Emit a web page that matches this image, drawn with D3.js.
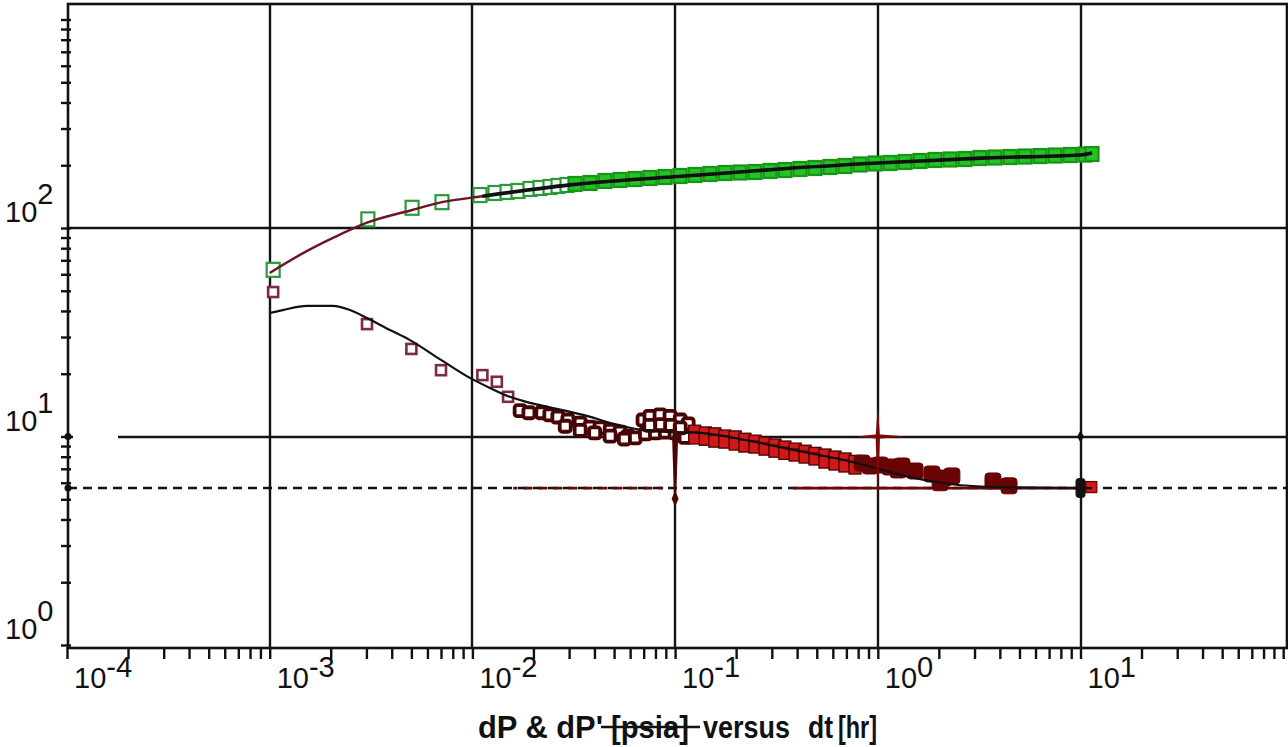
<!DOCTYPE html>
<html><head><meta charset="utf-8">
<script src="https://cdn.jsdelivr.net/npm/d3@7"></script>
<style>html,body{margin:0;padding:0;background:#fff;overflow:hidden}svg{display:block}</style>
</head><body>
<svg id="c" width="1288" height="747"></svg>
<script>
// ---------------- data ----------------
const xExponents = [-4, -3, -2, -1, 0, 1];
const yExponents = [0, 1, 2];
const titleParts = ["dP & dP'", "[psia]", "versus", "dt", "[hr]"];

const pressureTime = [0.00104, 0.00305, 0.00504, 0.00708, 0.0109, 0.01292, 0.01482, 0.01679, 0.01924, 0.02156,
  0.02415, 0.02645, 0.0293, 0.03208, 0.03804, 0.0451, 0.05348, 0.06341, 0.07518, 0.08915,
  0.1057, 0.1254, 0.1487, 0.1763, 0.209, 0.2478, 0.2939, 0.3484, 0.4132, 0.4899,
  0.5809, 0.6888, 0.8168, 0.9687, 1.149, 1.362, 1.615, 1.915, 2.271, 2.693,
  3.193, 3.786, 4.49, 5.324, 6.313, 7.486, 8.876, 10.52, 11.39];
const pressureDP = [63, 110, 125, 133, 143.9, 147.2, 148.9, 150.5, 153.9, 155.6,
  157.3, 159.1, 160.8, 162.6, 164.4, 168.1, 169.9, 171.8, 173.7, 175.6,
  177.6, 179.6, 181.6, 183.6, 184.6, 185.6, 187.7, 189.7, 191.9, 194.0,
  196.2, 198.4, 201.7, 203.9, 205.0, 207.3, 209.6, 211.9, 213.1, 214.2,
  216.6, 217.8, 219.0, 220.2, 221.4, 222.7, 223.9, 225.1, 226.4];

const derivTime = [0.00104, 0.00302, 0.0050, 0.0070, 0.0112, 0.0132, 0.0150,
  0.0172, 0.0190, 0.0220, 0.0241, 0.0264, 0.0296, 0.0340, 0.0380, 0.0426, 0.0478, 0.0535, 0.0586, 0.0634,
  0.0287, 0.0340, 0.0401, 0.0478, 0.0562,
  0.0695, 0.0752, 0.0843, 0.0944, 0.106, 0.116,
  0.0714, 0.0800, 0.0895, 0.1000, 0.112,
  0.0750, 0.0850, 0.0950, 0.106,
  0.125, 0.125, 0.141, 0.141, 0.157, 0.157, 0.176, 0.176, 0.198, 0.198,
  0.221, 0.221, 0.248, 0.248, 0.278, 0.278, 0.311, 0.311, 0.348, 0.348,
  0.391, 0.391, 0.438, 0.438, 0.49, 0.49, 0.549, 0.549, 0.615, 0.615,
  0.689, 0.689, 0.772, 0.772,
  0.836, 0.917, 1.026, 1.149, 1.259, 1.316, 1.527, 1.85, 2.03, 2.12, 2.32, 3.70, 4.44, 11.3];
const derivDP = [49.3, 34.6, 26.3, 20.8, 19.7, 18.3, 15.5,
  13.3, 13.0, 13.0, 12.7, 12.4, 12.0, 11.6, 11.1, 11.0, 10.7, 10.5, 10.05, 9.84,
  11.2, 10.7, 10.4, 10.05, 9.73,
  12.0, 12.5, 12.7, 12.5, 12.0, 11.5,
  10.3, 10.4, 10.5, 10.4, 9.9,
  11.3, 11.4, 11.3, 11.0,
  10.6, 9.84, 10.4, 9.7, 10.3, 9.5, 10.05, 9.4, 9.95, 9.2,
  9.7, 9.0, 9.5, 8.9, 9.3, 8.7, 9.1, 8.5, 8.9, 8.3,
  8.7, 8.15, 8.5, 7.97, 8.3, 7.8, 8.15, 7.54, 7.97, 7.38,
  7.8, 7.22, 7.6, 7.06,
  7.46, 7.22, 7.30, 7.14, 6.91, 7.22, 6.83, 6.61, 6.0, 6.32, 6.47, 6.12, 5.80, 5.72];

const modelPTime = [0.001, 0.00141, 0.0021, 0.00302, 0.00504, 0.00708, 0.0112, 0.0303, 0.0985, 0.187, 0.33, 1.0, 3.46, 10, 11.4];
const modelP     = [60.9, 74.3, 90.6, 106, 122, 133, 142, 161, 176, 184, 192, 205, 217, 224, 229];

const modelDTime = [0.001, 0.00116, 0.00153, 0.00205, 0.00249, 0.00302, 0.00392, 0.00492, 0.0070, 0.00972, 0.0122, 0.0153,
  0.0192, 0.0241, 0.0351, 0.0517, 0.0752, 0.133, 0.234, 0.413, 0.755, 1.29, 2.27, 4.0, 11.4];
const modelD     = [39.1, 40.4, 42.3, 42.3, 40.4, 37.0, 32.4, 29.0, 23.3, 19.1, 17.1, 15.5,
  14.5, 13.8, 12.7, 11.4, 10.6, 10.4, 9.52, 8.5, 7.54, 6.55, 5.92, 5.72, 5.66];

const iarfLevel = 5.66;
const iarfSolidRange = [0.382, 10];
const iarfRedRange = [0.0159, 0.0873];

// ---------------- drawing ----------------
const svg = d3.select("#c");
const FONT = "'Liberation Sans', Arial, sans-serif";
const frame = {left: 68, right: 1287, top: 4, bottom: 648};
const x = d3.scaleLog().domain([1e-4, 1e2]).range([67, 1283.2]);
const y = d3.scaleLog().domain([1, 1000]).range([645, 19.5]);

svg.append("rect").attr("width", 1288).attr("height", 747).attr("fill", "#fff");

// grid
const g = svg.append("g");
const vGrid = xExponents.slice(1).map(e => Math.pow(10, e));
g.selectAll("line.vg").data(vGrid).join("line")
  .attr("x1", d => Math.round(x(d))).attr("x2", d => Math.round(x(d)))
  .attr("y1", frame.top).attr("y2", frame.bottom)
  .attr("stroke", "#141414").attr("stroke-width", 2.4);
const hGrid = yExponents.slice(1).map(e => Math.pow(10, e));
g.selectAll("line.hg").data(hGrid).join("line")
  .attr("x1", frame.left).attr("x2", frame.right)
  .attr("y1", d => Math.round(y(d))).attr("y2", d => Math.round(y(d)))
  .attr("stroke", "#141414").attr("stroke-width", 2.4);
// white break in the 10^1 grid line near the axis, as in the source plot
g.append("rect").attr("x", 73).attr("y", y(10) - 3).attr("width", 45).attr("height", 6).attr("fill", "#fff");

// IARF dashed line
g.append("line").attr("x1", frame.left).attr("x2", frame.right)
  .attr("y1", y(iarfLevel)).attr("y2", y(iarfLevel))
  .attr("stroke", "#111").attr("stroke-width", 2.6).attr("stroke-dasharray", "9,6");
g.append("line").attr("x1", x(iarfRedRange[0])).attr("x2", x(iarfRedRange[1]))
  .attr("y1", y(iarfLevel)).attr("y2", y(iarfLevel))
  .attr("stroke", "#5a0a0a").attr("stroke-width", 2.8)
  .attr("stroke-dasharray", "9,6").attr("stroke-dashoffset", -(x(iarfRedRange[0]) - frame.left));
g.append("line").attr("x1", x(iarfSolidRange[0])).attr("x2", x(iarfSolidRange[1]))
  .attr("y1", y(iarfLevel)).attr("y2", y(iarfLevel))
  .attr("stroke", "#6e0606").attr("stroke-width", 2.8);

// frame
svg.append("rect").attr("x", frame.left).attr("y", frame.top)
  .attr("width", frame.right - frame.left).attr("height", frame.bottom - frame.top)
  .attr("fill", "none").attr("stroke", "#111").attr("stroke-width", 2.6);

// ticks
const mult = [1, 2, 3, 4, 5, 6, 7, 8, 9];
const xTickVals = [];
xExponents.forEach(e => mult.forEach(m => xTickVals.push(m * Math.pow(10, e))));
xTickVals.push(100);
const xAxis = d3.axisBottom(x).tickValues(xTickVals).tickFormat("").tickSize(12).tickSizeOuter(0);
const xa = svg.append("g").attr("transform", `translate(0,${frame.bottom - 1})`).call(xAxis);
xa.select(".domain").remove();
xa.selectAll("line").attr("stroke", "#111").attr("stroke-width", 2.4);

const yTickVals = [];
yExponents.forEach(e => mult.forEach(m => yTickVals.push(m * Math.pow(10, e))));
yTickVals.push(1000);
const yAxis = d3.axisLeft(y).tickValues(yTickVals).tickFormat("").tickSize(10).tickSizeOuter(0);
const ya = svg.append("g").attr("transform", `translate(${frame.left + 3},0)`).call(yAxis);
ya.select(".domain").remove();
ya.selectAll("line").attr("stroke", "#111").attr("stroke-width", 2.4);

// tick labels
yExponents.forEach(e => {
  const t = svg.append("text").attr("x", 5).attr("y", y(Math.pow(10, e)) - 6)
    .attr("font-family", FONT).attr("font-size", 29).attr("fill", "#111");
  t.append("tspan").text("10");
  t.append("tspan").attr("dy", -18).text(String(e));
});
xExponents.forEach(e => {
  const t = svg.append("text").attr("x", x(Math.pow(10, e)) + 7).attr("y", 688)
    .attr("font-family", FONT).attr("font-size", 29).attr("fill", "#111");
  t.append("tspan").text("10");
  t.append("tspan").attr("dy", -11).text(String(e));
});

// pressure points
const pressure = pressureTime.map((t, i) => [t, pressureDP[i]]);
svg.append("g").selectAll("rect").data(pressure).join("rect")
  .attr("x", d => x(d[0]) - 6.5).attr("y", d => y(d[1]) - 7)
  .attr("width", 13).attr("height", 14)
  .attr("fill", d => d[0] > 0.03 ? "#22c322" : "#fff")
  .attr("stroke", d => d[0] > 0.03 ? "#179317" : "#2a9a3a").attr("stroke-width", 2.2);

// pressure model
const line = d3.line().x(d => x(d[0])).y(d => y(d[1])).curve(d3.curveMonotoneX);
const pModel = modelPTime.map((t, i) => [t, modelP[i]]);
svg.append("path").attr("d", line(pModel)).attr("fill", "none")
  .attr("stroke", "#6b1525").attr("stroke-width", 2.4);
svg.append("path").attr("d", line(pModel.filter(d => d[0] >= 0.0112))).attr("fill", "none")
  .attr("stroke", "#111").attr("stroke-width", 3.6);

// derivative points
const deriv = derivTime.map((t, i) => [t, derivDP[i]]);
function dStyle(t) {
  if (t < 0.016) return {s: 10, fill: "#fff", stroke: "#7d2a42", sw: 2.6, rx: 0};
  if (t < 0.118) return {s: 11, fill: "#fff", stroke: "#480404", sw: 3.8, rx: 2.5};
  if (t < 0.8) return {s: 12, fill: "#d21818", stroke: "#4a0000", sw: 1.3, rx: 0};
  if (t > 11) return {s: 11, fill: "#d21818", stroke: "#6a0303", sw: 1.3, rx: 0};
  return {s: 16, fill: "#6a0303", stroke: "#6a0303", sw: 1, rx: 3.5};
}
svg.append("g").selectAll("rect").data(deriv).join("rect")
  .each(function (d) {
    const st = dStyle(d[0]);
    d3.select(this).attr("x", x(d[0]) - st.s / 2).attr("y", y(d[1]) - st.s / 2)
      .attr("width", st.s).attr("height", st.s).attr("rx", st.rx)
      .attr("fill", st.fill).attr("stroke", st.stroke).attr("stroke-width", st.sw);
  });

// derivative model
const dModel = modelDTime.map((t, i) => [t, modelD[i]]);
svg.append("path").attr("d", line(dModel)).attr("fill", "none")
  .attr("stroke", "#111").attr("stroke-width", 2.2);

// small markers on the IARF / grid crossings
const mk = svg.append("g").attr("fill", "#111");
[10, iarfLevel].forEach(v => mk.append("circle").attr("cx", frame.left).attr("cy", y(v)).attr("r", 3.5));
mk.append("path").attr("d", d3.symbol(d3.symbolDiamond, 40)()).attr("transform", `translate(${x(10)},${y(10)})`);
mk.append("rect").attr("x", x(10) - 5).attr("y", y(iarfLevel) - 10).attr("width", 10).attr("height", 20).attr("rx", 4);

// spikes (reference artefacts)
const cx1 = x(1), cy1 = y(10);
svg.append("path").attr("fill", "#7a0a0a")
  .attr("d", `M${cx1},${cy1 - 30} L${cx1 + 2.2},${cy1} L${cx1},${cy1 + 66} L${cx1 - 2.2},${cy1} Z M${cx1 - 22},${cy1} L${cx1},${cy1 - 2.2} L${cx1 + 28},${cy1} L${cx1},${cy1 + 2.2} Z`);
const cx2 = x(0.1), cy2 = y(iarfLevel);
svg.append("path").attr("fill", "#4a0505")
  .attr("d", `M${cx2},${cy2 - 75} L${cx2 + 3},${cy2 - 50} L${cx2 + 1.2},${cy2 + 5} L${cx2 + 3.5},${cy2 + 11} L${cx2},${cy2 + 18} L${cx2 - 3.5},${cy2 + 11} L${cx2 - 1.2},${cy2 + 5} L${cx2 - 3},${cy2 - 50} Z`);

// title (condensed bold, with the struck-through unit)
const titleX = [478, 611, 703, 808, 838];
const titleW = [125, 78, 87, 25, 39];
titleParts.forEach((p, i) => {
  svg.append("text").attr("x", titleX[i]).attr("y", 738)
    .attr("font-family", FONT).attr("font-weight", "bold").attr("font-size", 31)
    .attr("fill", "#111").attr("textLength", titleW[i]).attr("lengthAdjust", "spacingAndGlyphs")
    .text(p);
});
svg.append("line").attr("x1", 601).attr("x2", 700).attr("y1", 727).attr("y2", 727)
  .attr("stroke", "#111").attr("stroke-width", 2.4);
</script>
</body></html>
